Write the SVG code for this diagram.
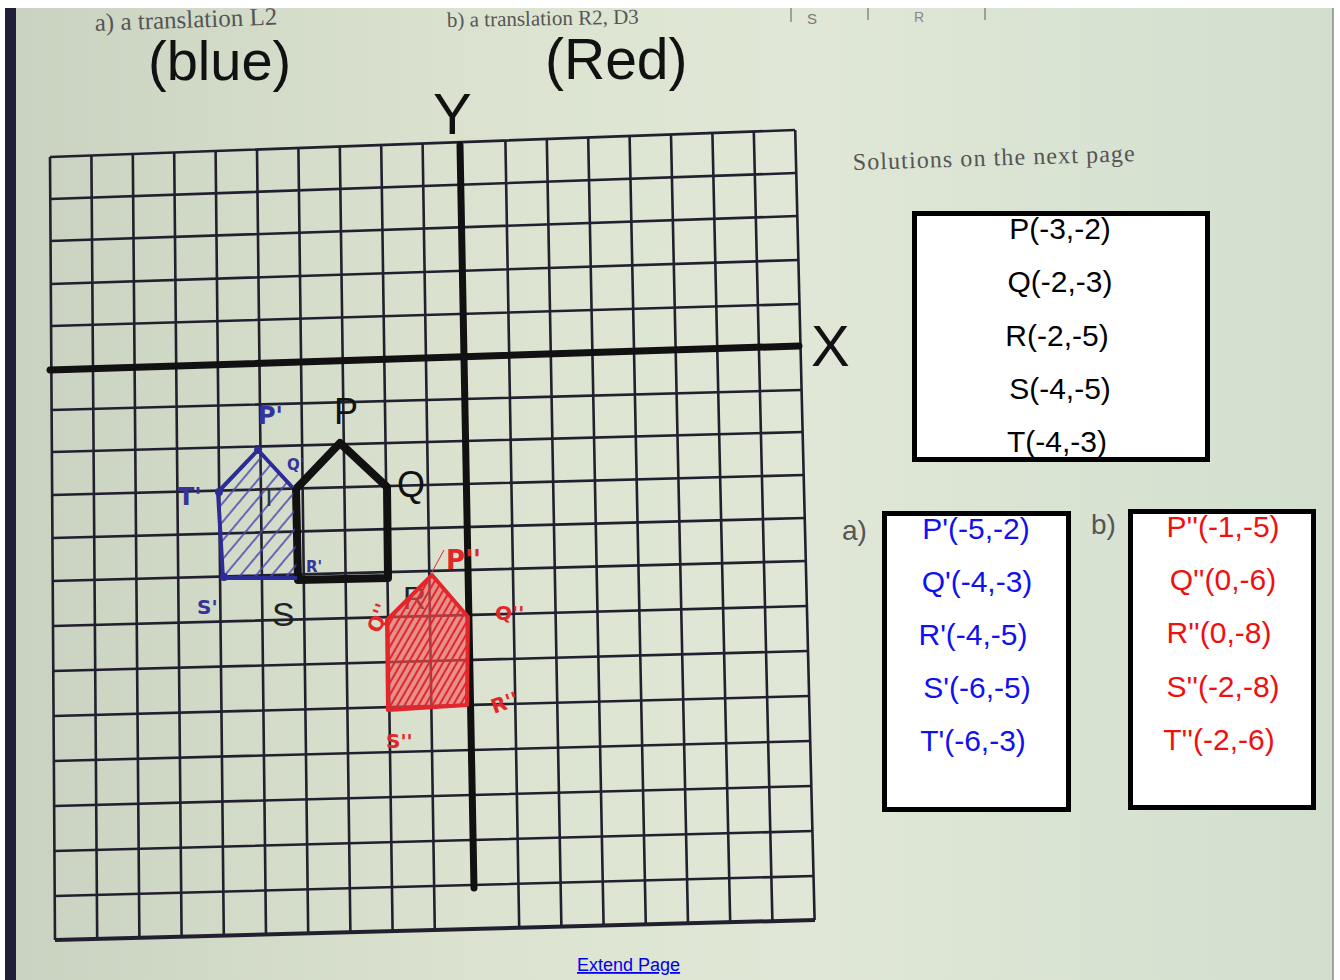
<svg xmlns="http://www.w3.org/2000/svg" width="1340" height="980" viewBox="0 0 1340 980">
<defs>
<linearGradient id="bg" x1="0" y1="0" x2="1" y2="0">
<stop offset="0" stop-color="#c9d1c0"/>
<stop offset="0.35" stop-color="#dbe3d0"/>
<stop offset="0.6" stop-color="#e0e7d6"/>
<stop offset="1" stop-color="#d2dfcf"/>
</linearGradient>
<pattern id="hatchBlue" patternUnits="userSpaceOnUse" width="12" height="12" patternTransform="rotate(40)">
<line x1="2" y1="0" x2="2" y2="12" stroke="#4a4ab0" stroke-width="1.6"/>
</pattern>
<pattern id="hatchRed" patternUnits="userSpaceOnUse" width="6" height="6" patternTransform="rotate(30)">
<line x1="1" y1="0" x2="1" y2="6" stroke="#e3262c" stroke-width="2"/>
</pattern>
<style>
.grid{fill:none;stroke:#22202e;stroke-width:2.6}
.axis{fill:none;stroke:#111;stroke-width:7;stroke-linecap:round}
.sans{font-family:"Liberation Sans",Arial,sans-serif}
.serif{font-family:"Liberation Serif","Times New Roman",serif;fill:#555}
.box{fill:#fff;stroke:#000;stroke-width:5}
.coord{font-family:"Liberation Sans",Arial,sans-serif;font-size:30px;text-anchor:middle}
.hand{font-family:"DejaVu Sans",sans-serif;font-weight:bold}
</style>
</defs>

<!-- background photo -->
<rect x="0" y="0" width="1340" height="980" fill="url(#bg)"/>
<rect x="0" y="0" width="1340" height="8" fill="#fff"/>
<rect x="0" y="0" width="5" height="980" fill="#fff"/>
<rect x="5" y="8" width="11" height="972" fill="#1f1f38"/>
<rect x="1333" y="0" width="7" height="980" fill="#fff"/>
<line x1="1333" y1="8" x2="1333" y2="980" stroke="#888" stroke-width="1.5"/>

<!-- header texts -->
<g id="header">
<text class="serif" x="95" y="31" font-size="25" transform="rotate(-2 95 31)">a) a translation L2</text>
<text class="serif" x="447" y="27" font-size="21" transform="rotate(-1 447 27)">b) a translation R2, D3</text>
<g stroke="#888" stroke-width="1.5">
<line x1="791" y1="8" x2="791" y2="22"/>
<line x1="868" y1="8" x2="868" y2="20"/>
<line x1="985" y1="8" x2="985" y2="20"/>
</g>
<text class="sans" x="807" y="24" font-size="15" fill="#777">S</text>
<text class="sans" x="914" y="22" font-size="14" fill="#888">R</text>
<text class="sans" x="148" y="80" font-size="56" fill="#111">(blue)</text>
<text class="sans" x="545" y="79" font-size="57" fill="#111">(Red)</text>
<text class="sans" x="433" y="134" font-size="58" fill="#111">Y</text>
<text class="sans" x="811" y="366" font-size="58" fill="#111">X</text>
</g>

<!-- grid -->
<g id="grid">
<path class="grid" d="M50,157 L55,940 M91.4,155.5 L97.2,938.9 M132.8,154 L139.4,937.8 M174.2,152.5 L181.6,936.7 M215.6,151 L223.8,935.6 M257,149.5 L266,934.5 M298.4,148 L308.2,933.3 M339.8,146.5 L350.4,932.2 M381.2,145 L392.6,931.1 M422.6,143.5 L434.8,930 M505.4,140.5 L519.2,927.8 M546.8,139 L561.4,926.7 M588.2,137.5 L603.6,925.6 M629.6,136 L645.8,924.5 M671,134.5 L688,923.4 M712.4,133 L730.2,922.2 M753.8,131.5 L772.4,921.1 M795.2,130 L814.6,920"/>
<path class="grid" d="M50,157 L795,130 M50.3,199 L796.1,173 M50.5,241 L797.2,216 M50.8,284 L798.3,260 M51.1,326 L799.5,304 M51.6,410 L801.6,390 M51.9,452 L802.7,432 M52.2,495 L803.8,475 M52.4,538 L804.9,518 M52.7,581 L806,561 M53,626 L807.1,606 M53.3,671 L808.3,651 M53.6,716 L809.4,696 M53.9,761 L810.5,741 M54.2,806 L811.7,786 M54.5,851 L812.8,831 M54.8,896 L813.9,876"/>
<path d="M55,940 L815,920" fill="none" stroke="#22202e" stroke-width="4"/>
<line class="axis" x1="460" y1="145" x2="474" y2="888"/>
<line class="axis" x1="50" y1="370" x2="799" y2="346"/>
</g>

<!-- original figure PQRST -->
<g id="figure-PQRST">
<text class="sans" x="403" y="609" font-size="32" fill="#222">R</text>
<polygon points="340,443 387,487 388,578 298,580 296,489" fill="none" stroke="#111" stroke-width="8" stroke-linejoin="round"/>
<text class="sans" x="334" y="424" font-size="36" fill="#111">P</text>
<text class="sans" x="397" y="497" font-size="36" fill="#111">Q</text>
<text class="sans" x="272" y="626" font-size="34" fill="#222">S</text>
</g>

<!-- blue image P'Q'R'S'T' -->
<g id="figure-blue">
<polygon points="258,450 293,488 297,578 223,578 218,492" fill="url(#hatchBlue)" stroke="none"/>
<polyline points="293,488 258,450 218,492 223,578 297,578" fill="none" stroke="#2c2c96" stroke-width="4" stroke-linejoin="round"/>
<circle cx="258" cy="450" r="4" fill="#2c2c96"/>
<circle cx="219" cy="492" r="4" fill="#2c2c96"/>
<circle cx="224" cy="577" r="4" fill="#2c2c96"/>
<text class="hand" x="258" y="424" font-size="24" fill="#34349c">P'</text>
<text class="hand" x="287" y="470" font-size="15" fill="#34349c">Q'</text>
<text class="hand" x="178" y="505" font-size="24" fill="#34349c">T'</text>
<text class="hand" x="306" y="572" font-size="15" fill="#34349c">R'</text>
<text class="hand" x="197" y="614" font-size="20" fill="#34349c">S'</text>
<text class="sans" x="261" y="506" font-size="26" fill="#333">T</text>
</g>

<!-- red image P''Q''R''S''T'' -->
<g id="figure-red">
<polygon points="432,575 468,617 467,705 388,710 387,620" fill="#ef5a5a" fill-opacity="0.6" stroke="none"/>
<polygon points="432,575 468,617 467,705 388,710 387,620" fill="url(#hatchRed)" stroke="#e3262c" stroke-width="4" stroke-linejoin="round"/>
<line x1="444" y1="550" x2="432" y2="572" stroke="#e3262c" stroke-width="1"/>
<text class="hand" x="446" y="569" font-size="26" fill="#e3262c">P''</text>
<text class="hand" x="380" y="634" font-size="20" fill="#e3262c" transform="rotate(-70 380 634)">Q''</text>
<text class="hand" x="495" y="620" font-size="20" fill="#e3262c">Q''</text>
<text class="hand" x="494" y="714" font-size="20" fill="#e3262c" transform="rotate(-20 494 714)">R''</text>
<text class="hand" x="386" y="748" font-size="20" fill="#e3262c">S''</text>
</g>

<!-- solutions note -->
<text class="serif" x="853" y="170" font-size="24" textLength="282" fill="#4a4a4a" transform="rotate(-1.8 853 170)">Solutions on the next page</text>

<!-- original coordinates box -->
<g id="box-original">
<rect class="box" x="914.5" y="213.5" width="293" height="246"/>
<text class="coord" x="1060" y="239" fill="#000">P(-3,-2)</text>
<text class="coord" x="1060" y="292" fill="#000">Q(-2,-3)</text>
<text class="coord" x="1057" y="346" fill="#000">R(-2,-5)</text>
<text class="coord" x="1060" y="399" fill="#000">S(-4,-5)</text>
<text class="coord" x="1057" y="452" fill="#000">T(-4,-3)</text>
</g>

<!-- a) blue box -->
<g id="box-a">
<text class="sans" x="842" y="540" font-size="28" fill="#555">a)</text>
<rect class="box" x="884.5" y="513.5" width="184" height="296"/>
<text class="coord" x="976" y="539" fill="#1010f0">P'(-5,-2)</text>
<text class="coord" x="977" y="592" fill="#1010f0">Q'(-4,-3)</text>
<text class="coord" x="973" y="645" fill="#1010f0">R'(-4,-5)</text>
<text class="coord" x="977" y="698" fill="#1010f0">S'(-6,-5)</text>
<text class="coord" x="973" y="751" fill="#1010f0">T'(-6,-3)</text>
</g>

<!-- b) red box -->
<g id="box-b">
<text class="sans" x="1091" y="534" font-size="28" fill="#555">b)</text>
<rect class="box" x="1130.5" y="511.5" width="183" height="296"/>
<text class="coord" x="1223" y="537" fill="#f01010">P''(-1,-5)</text>
<text class="coord" x="1223" y="590" fill="#f01010">Q''(0,-6)</text>
<text class="coord" x="1219" y="643" fill="#f01010">R''(0,-8)</text>
<text class="coord" x="1223" y="697" fill="#f01010">S''(-2,-8)</text>
<text class="coord" x="1219" y="750" fill="#f01010">T''(-2,-6)</text>
</g>

<!-- link -->
<g id="link">
<text class="sans" x="577" y="971" font-size="18" fill="#0000ee" text-decoration="underline">Extend Page</text>
</g>
</svg>
